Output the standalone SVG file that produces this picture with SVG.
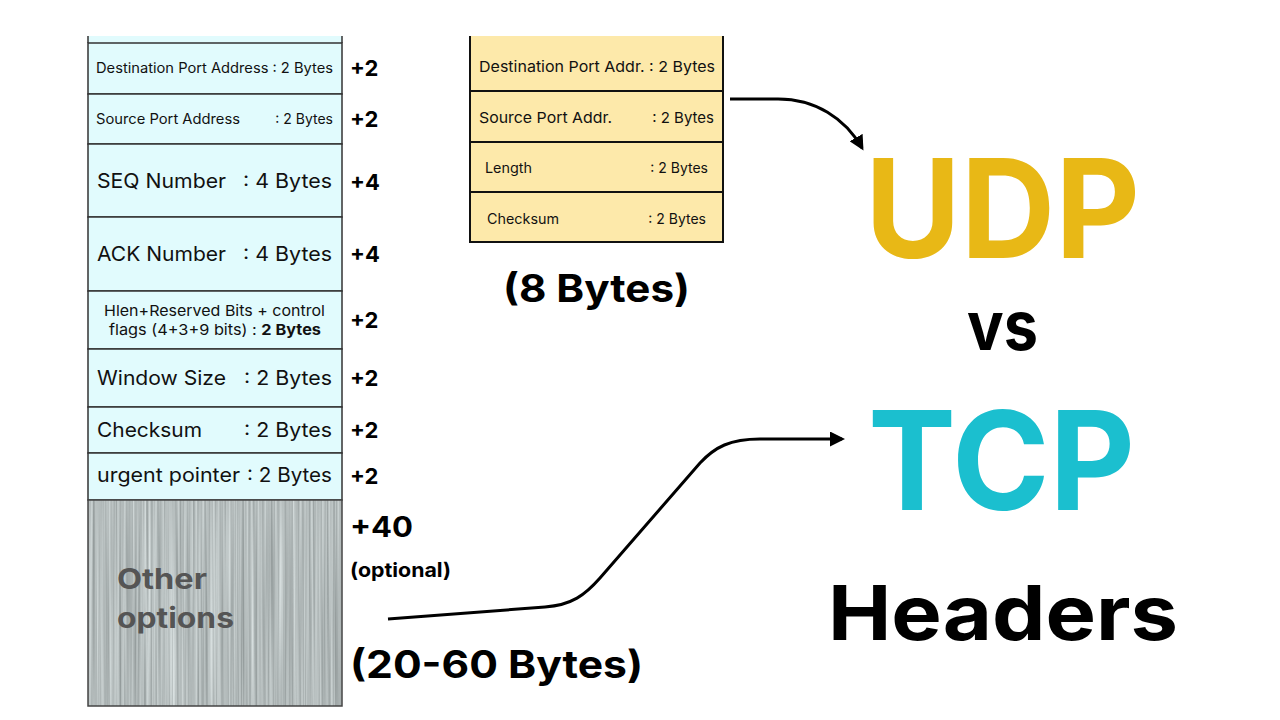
<svg xmlns="http://www.w3.org/2000/svg" width="1280" height="720" viewBox="0 0 1280 720">
  <style>
    text { font-optical-sizing: none; font-variation-settings: "opsz" 14; }
    .t { font-family: Inter, "Liberation Sans", sans-serif; fill: #111; }
    .s14 { font-size: 14px; }
    .s15 { font-size: 15px; }
    .s20 { font-size: 20px; }
    .b { font-weight: 700; }
    .plus { font-family: Inter, "Liberation Sans", sans-serif; font-weight: 700; font-size: 22px; fill: #000; }
    .tcpcell { fill: #e1fbfd; stroke: #333; stroke-width: 1.5; }
    .udpcell { fill: #fde9aa; stroke: #111; stroke-width: 2; }
    .conn { fill: none; stroke: #000; stroke-width: 3; }
    .big { font-family: Inter, "Liberation Sans", sans-serif; font-weight: 700; }
  </style>
  <defs>
    <marker id="arrow" viewBox="0 0 10 10" refX="8" refY="5" markerWidth="5" markerHeight="5" orient="auto" markerUnits="strokeWidth">
      <path d="M0 0 L10 5 L0 10 z" fill="#000"/>
    </marker>
    <!-- vertical brushed-metal streaks, grey only -->
    <filter id="brushed" x="0" y="0" width="100%" height="100%" color-interpolation-filters="sRGB">
      <feTurbulence type="fractalNoise" baseFrequency="0.45 0.004" numOctaves="2" seed="7" result="n"/>
      <feColorMatrix in="n" type="matrix" values="0.4 0 0 0 0.51  0.4 0 0 0 0.54  0.4 0 0 0 0.54  0 0 0 0 1"/>
    </filter>
  </defs>

  <rect width="1280" height="720" fill="#fff"/>

  <!-- TCP header table -->
  <g id="tcp-top">
    <rect x="88" y="36" width="254" height="7" fill="#e1fbfd"/>
    <line x1="88" y1="36" x2="88" y2="43" stroke="#333" stroke-width="1.5"/>
    <line x1="342" y1="36" x2="342" y2="43" stroke="#333" stroke-width="1.5"/>
  </g>
  <g id="tcp-dst-port">
    <rect class="tcpcell" x="88" y="43" width="254" height="51"/>
    <text class="t s14" x="96" y="73" textLength="237" lengthAdjust="spacingAndGlyphs">Destination Port Address : 2 Bytes</text>
    <text class="plus" x="350" y="76">+2</text>
  </g>
  <g id="tcp-src-port">
    <rect class="tcpcell" x="88" y="94" width="254" height="50"/>
    <text class="t s14" x="96" y="124" textLength="144" lengthAdjust="spacingAndGlyphs">Source Port Address</text>
    <text class="t s14" x="333" y="124" text-anchor="end">: 2 Bytes</text>
    <text class="plus" x="350" y="127">+2</text>
  </g>
  <g id="tcp-seq">
    <rect class="tcpcell" x="88" y="144" width="254" height="73"/>
    <text class="t s20" x="97" y="188" textLength="129" lengthAdjust="spacingAndGlyphs">SEQ Number</text>
    <text class="t s20" x="243" y="188" textLength="89" lengthAdjust="spacingAndGlyphs">: 4 Bytes</text>
    <text class="plus" x="350" y="190">+4</text>
  </g>
  <g id="tcp-ack">
    <rect class="tcpcell" x="88" y="217" width="254" height="74"/>
    <text class="t s20" x="97" y="261" textLength="129" lengthAdjust="spacingAndGlyphs">ACK Number</text>
    <text class="t s20" x="243" y="261" textLength="89" lengthAdjust="spacingAndGlyphs">: 4 Bytes</text>
    <text class="plus" x="350" y="262">+4</text>
  </g>
  <g id="tcp-flags">
    <rect class="tcpcell" x="88" y="291" width="254" height="58"/>
    <text class="t s15" x="104" y="316" textLength="221" lengthAdjust="spacingAndGlyphs">Hlen+Reserved Bits + control</text>
    <text class="t s15" x="109" y="335" textLength="212" lengthAdjust="spacingAndGlyphs">flags  (4+3+9 bits) : <tspan class="b">2 Bytes</tspan></text>
    <text class="plus" x="350" y="328">+2</text>
  </g>
  <g id="tcp-window">
    <rect class="tcpcell" x="88" y="349" width="254" height="58"/>
    <text class="t s20" x="97" y="385" textLength="129" lengthAdjust="spacingAndGlyphs">Window Size</text>
    <text class="t s20" x="244" y="385" textLength="88" lengthAdjust="spacingAndGlyphs">: 2 Bytes</text>
    <text class="plus" x="350" y="386">+2</text>
  </g>
  <g id="tcp-checksum">
    <rect class="tcpcell" x="88" y="407" width="254" height="46"/>
    <text class="t s20" x="97" y="437" textLength="105" lengthAdjust="spacingAndGlyphs">Checksum</text>
    <text class="t s20" x="244" y="437" textLength="88" lengthAdjust="spacingAndGlyphs">: 2 Bytes</text>
    <text class="plus" x="350" y="438">+2</text>
  </g>
  <g id="tcp-urgent">
    <rect class="tcpcell" x="88" y="453" width="254" height="47"/>
    <text class="t s20" x="97" y="482" textLength="143" lengthAdjust="spacingAndGlyphs">urgent pointer</text>
    <text class="t s20" x="247" y="482" textLength="85" lengthAdjust="spacingAndGlyphs">: 2 Bytes</text>
    <text class="plus" x="350" y="484">+2</text>
  </g>
  <g id="tcp-options">
    <rect x="88" y="500" width="254" height="206" fill="#b4bcbc" filter="url(#brushed)"/>
    <rect x="88" y="500" width="254" height="206" fill="none" stroke="#444" stroke-width="1.5"/>
    <text class="big" x="117" y="589" font-size="28" fill="#555" textLength="90" lengthAdjust="spacingAndGlyphs">Other</text>
    <text class="big" x="117" y="628" font-size="28" fill="#555" textLength="117" lengthAdjust="spacingAndGlyphs">options</text>
    <text class="big" x="350" y="537" font-size="28" fill="#000" textLength="63" lengthAdjust="spacingAndGlyphs">+40</text>
    <text class="big" x="350" y="577" font-size="20" fill="#000" textLength="101" lengthAdjust="spacingAndGlyphs">(optional)</text>
  </g>
  <g id="tcp-size">
    <text class="big" x="350" y="678" font-size="38" fill="#000" textLength="293" lengthAdjust="spacingAndGlyphs">(20-60 Bytes)</text>
  </g>

  <!-- UDP header table -->
  <g id="udp-dst-port">
    <rect x="470" y="36" width="253" height="55" fill="#fde9aa"/>
    <path d="M470 36 V91 M723 36 V91" stroke="#111" stroke-width="2"/>
    <text class="t s15" x="479" y="72" textLength="236" lengthAdjust="spacingAndGlyphs">Destination Port Addr. : 2 Bytes</text>
  </g>
  <g id="udp-src-port">
    <rect class="udpcell" x="470" y="91" width="253" height="51"/>
    <text class="t s15" x="479" y="123" textLength="133" lengthAdjust="spacingAndGlyphs">Source Port Addr.</text>
    <text class="t s15" x="714" y="123" text-anchor="end">: 2 Bytes</text>
  </g>
  <g id="udp-length">
    <rect class="udpcell" x="470" y="142" width="253" height="50"/>
    <text class="t s14" x="485" y="173" textLength="47" lengthAdjust="spacingAndGlyphs">Length</text>
    <text class="t s14" x="708" y="173" text-anchor="end">: 2 Bytes</text>
  </g>
  <g id="udp-checksum">
    <rect class="udpcell" x="470" y="192" width="253" height="50"/>
    <text class="t s14" x="487" y="224" textLength="72" lengthAdjust="spacingAndGlyphs">Checksum</text>
    <text class="t s14" x="706" y="224" text-anchor="end">: 2 Bytes</text>
  </g>
  <g id="udp-size">
    <text class="big" x="503" y="302" font-size="38" fill="#000" textLength="187" lengthAdjust="spacingAndGlyphs">(8 Bytes)</text>
  </g>

  <!-- Title -->
  <g id="title">
    <text class="big" x="865" y="258" font-size="137" fill="#e8b816" textLength="275" lengthAdjust="spacingAndGlyphs">UDP</text>
    <text class="big" x="967" y="350" font-size="68" fill="#000" textLength="71" lengthAdjust="spacingAndGlyphs">vs</text>
    <text class="big" x="868" y="510" font-size="137" fill="#1bbfcf" textLength="267" lengthAdjust="spacingAndGlyphs">TCP</text>
    <text class="big" x="828" y="640" font-size="76" fill="#000" textLength="350" lengthAdjust="spacingAndGlyphs">Headers</text>
  </g>

  <!-- Connectors -->
  <g id="connectors">
    <path class="conn" d="M730 99 L778 99 C815 99 845 118 862 148" marker-end="url(#arrow)"/>
    <path class="conn" d="M388 619 L545 607 C572 605 585 595 600 578 L700 463 C715 447 730 439 760 439 L842 439" marker-end="url(#arrow)"/>
  </g>
</svg>
